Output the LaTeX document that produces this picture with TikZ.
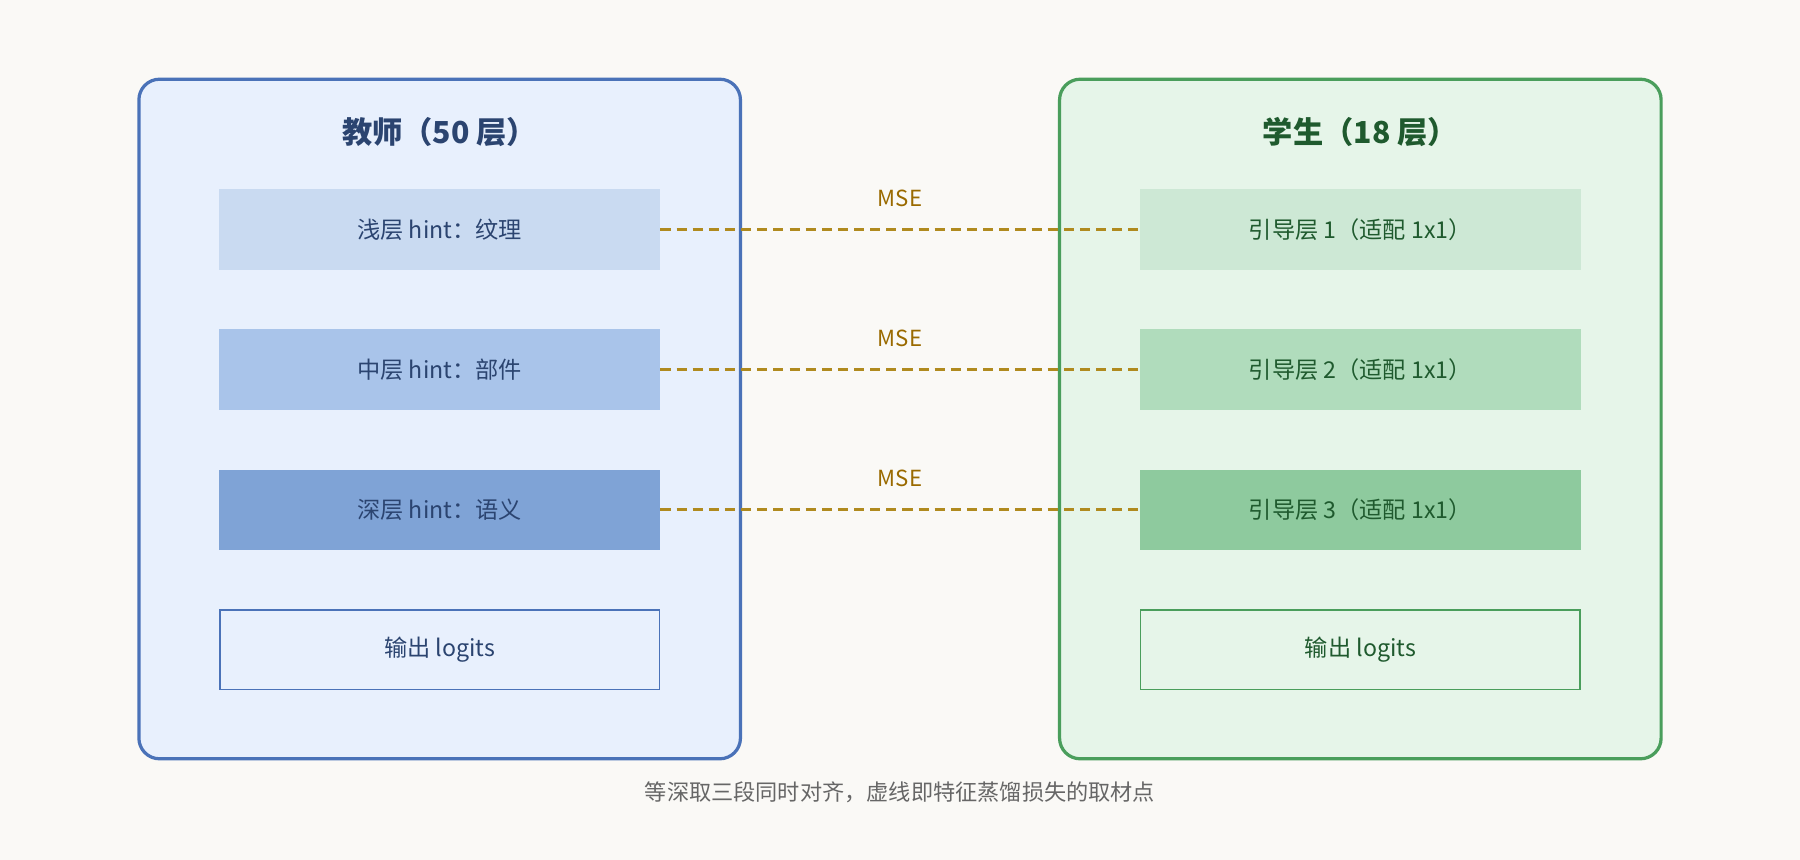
\documentclass[tikz,border=0pt]{standalone}
\usepackage{fontspec}
\setmainfont{Noto Sans CJK SC}
\definecolor{bgc}{HTML}{FAF9F6}
\definecolor{tbg}{HTML}{E8F0FD}\definecolor{tbd}{HTML}{4A72B8}\definecolor{ttx}{HTML}{2B4470}
\definecolor{tA}{HTML}{C9DAF1}\definecolor{tB}{HTML}{A9C4EA}\definecolor{tC}{HTML}{7FA3D6}
\definecolor{sbg}{HTML}{E6F5E9}\definecolor{sbd}{HTML}{4A9E5C}\definecolor{stx}{HTML}{1F5A2E}
\definecolor{sA}{HTML}{CDE8D5}\definecolor{sB}{HTML}{B0DCBC}\definecolor{sC}{HTML}{8ECA9E}
\definecolor{dsh}{HTML}{B08A1E}\definecolor{mse}{HTML}{9A6A00}
\begin{document}
\begin{tikzpicture}[x=0.02cm,y=-0.02cm,
 lay/.style={minimum width=7.68cm,minimum height=1.4cm,inner sep=0pt,font=\fontsize{11.5}{13}\selectfont},
 tl/.style={lay,text=ttx},sl/.style={lay,text=stx},
 box/.style={rounded corners=0.36cm,line width=1.6pt},
 ttl/.style={font=\fontsize{15}{18}\selectfont\bfseries},
 link/.style={dsh,dashed,line width=1.4pt,dash pattern=on 5pt off 3pt},
 lbl/.style={text=mse,font=\fontsize{11}{13}\selectfont}]
\useasboundingbox[fill=bgc] (0,0) rectangle (1568,749);
\draw[box,fill=tbg,draw=tbd] (121,69) rectangle (645,661);
\draw[box,fill=sbg,draw=sbd] (923,69) rectangle (1447,661);
\node[ttl,text=ttx] (tt) at (383,115) {教师（50 层）};
\node[ttl,text=stx] (st) at (1185,115) {学生（18 层）};
\node[tl,fill=tA] (t1) at (383,200) {浅层 hint：纹理};
\node[tl,fill=tB] (t2) at (383,322) {中层 hint：部件};
\node[tl,fill=tC] (t3) at (383,444) {深层 hint：语义};
\node[tl,draw=tbd,line width=0.8pt,minimum width=7.66cm,minimum height=1.38cm] (t4) at (383,566) {输出 logits};
\node[sl,fill=sA] (s1) at (1185,200) {引导层 1（适配 1x1）};
\node[sl,fill=sB] (s2) at (1185,322) {引导层 2（适配 1x1）};
\node[sl,fill=sC] (s3) at (1185,444) {引导层 3（适配 1x1）};
\node[sl,draw=sbd,line width=0.8pt,minimum width=7.66cm,minimum height=1.38cm] (s4) at (1185,566) {输出 logits};
\draw[link] (t1.east) -- node[lbl,above=0.25cm] {MSE} (s1.west);
\draw[link] (t2.east) -- node[lbl,above=0.25cm] {MSE} (s2.west);
\draw[link] (t3.east) -- node[lbl,above=0.25cm] {MSE} (s3.west);
\node[text=black!60,font=\fontsize{11}{13}\selectfont] (cap) at (784,690) {等深取三段同时对齐，虚线即特征蒸馏损失的取材点};
\end{tikzpicture}
\end{document}
